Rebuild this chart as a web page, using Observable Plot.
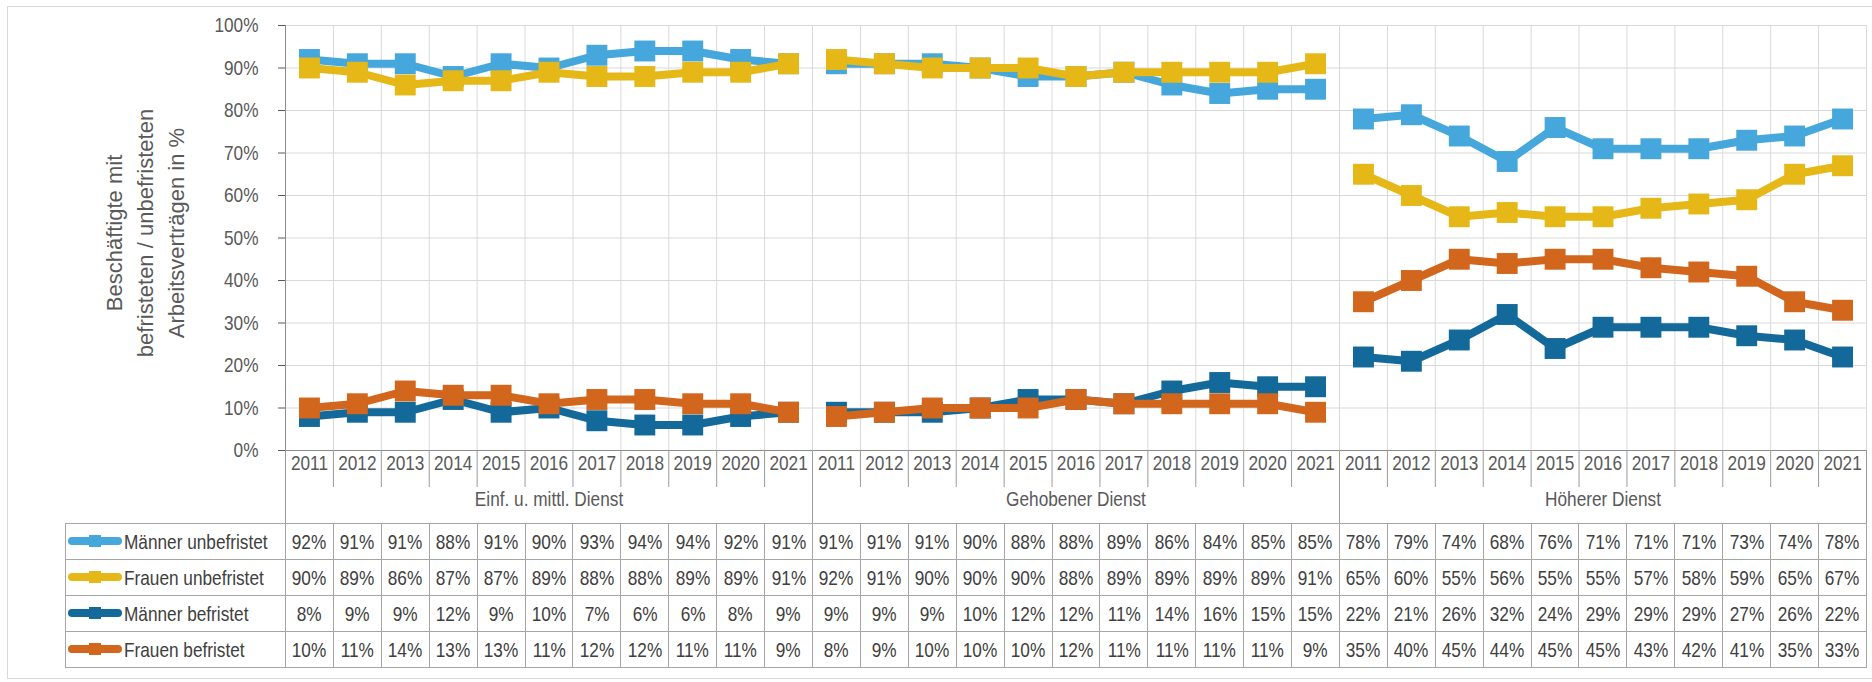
<!DOCTYPE html>
<html lang="de">
<head>
<meta charset="utf-8">
<script src="https://cdn.jsdelivr.net/npm/d3@7"></script>
<script src="https://cdn.jsdelivr.net/npm/@observablehq/plot@0.6"></script>
<style>
  html, body { margin: 0; padding: 0; background: #fff; }
  body { width: 1872px; height: 682px; position: relative; overflow: hidden;
         font-family: "Liberation Sans", Arial, sans-serif; }
  #frame { position: absolute; left: 7px; top: 6px; width: 1866px; height: 673px;
           border: 1px solid #d9d9d9; box-sizing: border-box; }
  #chart { position: absolute; left: 0; top: 0; }
  #datatable { position: absolute; border-collapse: collapse; table-layout: fixed;
               font-size: 21px; color: #404040; }
  #datatable td { border: 1px solid #a6a6a6; padding: 0; height: 35px; text-align: center;
                  white-space: nowrap; overflow: visible; }
  #datatable td.name { text-align: left; padding-left: 2px; }
  .narrow { display: inline-block; transform: scaleX(0.82); transform-origin: 50% 50%; }
  td.name .narrow { transform-origin: 0 50%; }
  .key { display: inline-block; position: relative; width: 54px; height: 12px;
         vertical-align: middle; margin-right: 2px; top: -2px; }
  .key .ln { position: absolute; left: 0; right: 0; top: 2px; height: 8px; border-radius: 4px; }
  .key .sq { position: absolute; left: 21px; top: 0; width: 12px; height: 12px; }
</style>
</head>
<body>
<div id="frame"></div>
<div id="chart"></div>
<script>
// Years within each career group
const years = [2011, 2012, 2013, 2014, 2015, 2016, 2017, 2018, 2019, 2020, 2021];
// Career groups (Laufbahngruppen)
const groups = ["Einf. u. mittl. Dienst", "Gehobener Dienst", "Höherer Dienst"];
// Series, in drawing order
const seriesNames = ["Männer unbefristet", "Frauen unbefristet", "Männer befristet", "Frauen befristet"];
const seriesColors = ["#45a7dc", "#e6b817", "#13699a", "#d2661c"];

// Shares in %, 11 years per group: Einf./mittl., Gehobener, Höherer
const maennerUnbefristet = [92, 91, 91, 88, 91, 90, 93, 94, 94, 92, 91,
                            91, 91, 91, 90, 88, 88, 89, 86, 84, 85, 85,
                            78, 79, 74, 68, 76, 71, 71, 71, 73, 74, 78];
const frauenUnbefristet  = [90, 89, 86, 87, 87, 89, 88, 88, 89, 89, 91,
                            92, 91, 90, 90, 90, 88, 89, 89, 89, 89, 91,
                            65, 60, 55, 56, 55, 55, 57, 58, 59, 65, 67];
const maennerBefristet   = [8, 9, 9, 12, 9, 10, 7, 6, 6, 8, 9,
                            9, 9, 9, 10, 12, 12, 11, 14, 16, 15, 15,
                            22, 21, 26, 32, 24, 29, 29, 29, 27, 26, 22];
const frauenBefristet    = [10, 11, 14, 13, 13, 11, 12, 12, 11, 11, 9,
                            8, 9, 10, 10, 10, 12, 11, 11, 11, 11, 9,
                            35, 40, 45, 44, 45, 45, 43, 42, 41, 35, 33];

const yTicks = [0, 10, 20, 30, 40, 50, 60, 70, 80, 90, 100];
const yTitle = "Beschäftigte mit\nbefristeten / unbefristeten\nArbeitsverträgen in %";

const seriesValues = [maennerUnbefristet, frauenUnbefristet, maennerBefristet, frauenBefristet];

// One category slot per (group, year); pos is the slot centre on a 0..33 axis
const cats = groups.flatMap((g, gi) => years.map((y, yi) => ({group: g, year: y, pos: gi * years.length + yi + 0.5})));
const nCats = cats.length;
const groupInfo = groups.map((g, gi) => ({name: g, center: gi * years.length + years.length / 2}));

const rows = seriesNames.flatMap((s, si) => cats.map((c, ci) => ({series: s, group: c.group, year: c.year, pos: c.pos, value: seriesValues[si][ci]})));

const font = "'Liberation Sans', Arial, sans-serif";
const textColor = "#595959";
const narrowFactor = 0.82;

const seriesMarks = seriesNames.flatMap((s, si) => {
  const d = rows.filter(r => r.series === s);
  return [
    Plot.line(d, {x: "pos", y: "value", z: "group", stroke: seriesColors[si], strokeWidth: 8, strokeLinejoin: "round"}),
    Plot.dot(d, {x: "pos", y: "value", symbol: "square", r: 11.8, fill: seriesColors[si], stroke: "none"})
  ];
});

const chart = Plot.plot({
  width: 1872,
  height: 523,
  marginLeft: 285,
  marginRight: 6,
  marginTop: 25,
  marginBottom: 73,
  style: {fontFamily: font, fontSize: "21px", background: "transparent", overflow: "visible"},
  x: {domain: [0, nCats], axis: null},
  y: {domain: [0, 100], axis: null},
  marks: [
    // grid
    Plot.ruleY(yTicks.filter(t => t > 0), {stroke: "#d9d9d9", strokeWidth: 1}),
    Plot.ruleX(d3.range(1, nCats + 1), {stroke: "#d9d9d9", strokeWidth: 1}),
    // y axis
    Plot.axisY(yTicks, {tickSize: 7, tickPadding: 20, tickFormat: d => d + "%", fontSize: 21, color: textColor, label: null, className: "narrow-text"}),
    Plot.ruleX([0], {stroke: "#8c8c8c"}),
    Plot.ruleY([0], {stroke: "#8c8c8c"}),
    // category table: year cells and group cells
    Plot.axisX(d3.range(0, nCats + 1), {tickSize: 37, tickFormat: () => "", color: "#9a9a9a", label: null}),
    Plot.axisX(d3.range(0, nCats + 1, years.length), {tickSize: 73, tickFormat: () => "", color: "#9a9a9a", label: null}),
    Plot.text(cats, {x: "pos", text: d => String(d.year), frameAnchor: "bottom", dy: 19, fontSize: 21, fill: textColor, className: "narrow-text"}),
    Plot.text(groupInfo, {x: "center", text: "name", frameAnchor: "bottom", dy: 55, fontSize: 21, fill: textColor, className: "narrow-text"}),
    // y title
    Plot.text([yTitle], {frameAnchor: "left", textAnchor: "middle", dx: -142, dy: -5, rotate: -90, fontSize: 22, lineHeight: 1.41, fill: textColor}),
    // series
    ...seriesMarks
  ]
});
document.getElementById("chart").append(chart);

// Condensed lettering for tick and category labels: squeeze each text run horizontally
chart.querySelectorAll(".narrow-text text").forEach(t => {
  const runs = t.querySelectorAll("tspan");
  (runs.length ? Array.from(runs) : [t]).forEach(el => {
    const len = el.getComputedTextLength();
    if (len > 0) {
      el.setAttribute("textLength", (len * narrowFactor).toFixed(2));
      el.setAttribute("lengthAdjust", "spacingAndGlyphs");
    }
  });
});

// Data table below the category axis, columns follow the x scale
const xs = chart.scale("x");
const colW = xs.apply(1) - xs.apply(0);
const left0 = 65;
const table = d3.select("body").append("table").attr("id", "datatable")
  .style("left", left0 + "px").style("top", "523px")
  .style("width", (xs.apply(nCats) - left0) + "px");
const colgroup = table.append("colgroup");
colgroup.append("col").style("width", (xs.apply(0) - left0) + "px");
cats.forEach(() => colgroup.append("col").style("width", colW + "px"));
seriesNames.forEach((s, si) => {
  const tr = table.append("tr");
  const td = tr.append("td").attr("class", "name");
  const key = td.append("span").attr("class", "key");
  key.append("span").attr("class", "ln").style("background", seriesColors[si]);
  key.append("span").attr("class", "sq").style("background", seriesColors[si]);
  td.append("span").attr("class", "narrow").text(s);
  seriesValues[si].forEach(v => tr.append("td").append("span").attr("class", "narrow").text(v + "%"));
});
</script>
</body>
</html>
